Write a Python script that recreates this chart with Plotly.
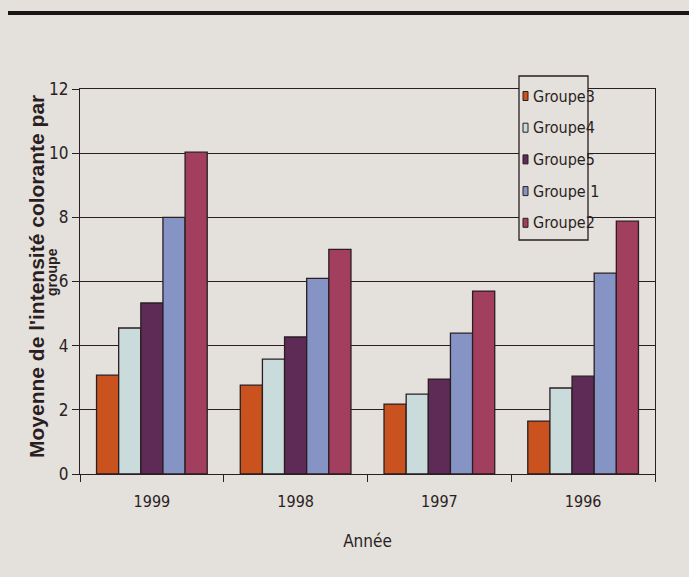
import plotly.graph_objects as go

years = ["1999", "1998", "1997", "1996"]
series_names = ["Groupe3", "Groupe4", "Groupe5", "Groupe 1", "Groupe2"]
groupe3 = [3.08, 2.77, 2.18, 1.65]
groupe4 = [4.55, 3.58, 2.49, 2.68]
groupe5 = [5.33, 4.27, 2.96, 3.05]
groupe1 = [8.0, 6.1, 4.39, 6.26]
groupe2 = [10.03, 7.0, 5.7, 7.88]
y_ticks = [0, 2, 4, 6, 8, 10, 12]

values = [groupe3, groupe4, groupe5, groupe1, groupe2]
colors = ["#c9521f", "#c9dbda", "#5e2a56", "#8594c4", "#a23e5e"]

bg = "#e4e0dc"
ink = "#2a1e22"
font_fam = "DejaVu Sans Condensed, Liberation Sans Narrow, Liberation Sans, Arial, sans-serif"

W, H = 689, 577
ML, MR, MT, MB = 80, 34, 89, 103
PW, PH = W - ML - MR, H - MT - MB


def px(x):
    return (x - ML) / PW


def py(y):
    return (H - MB - y) / PH


fig = go.Figure()
for name, vals, col in zip(series_names, values, colors):
    fig.add_trace(go.Bar(
        x=years, y=vals, name=name, showlegend=False,
        marker=dict(color=col, line=dict(color=ink, width=1.3)),
    ))

shapes = [
    # top rule of the page
    dict(type="line", xref="paper", yref="paper",
         x0=px(8), x1=px(W), y0=py(13), y1=py(13),
         line=dict(color="#1a1416", width=4)),
    # legend box
    dict(type="rect", xref="paper", yref="paper",
         x0=px(519), x1=px(588), y0=py(240), y1=py(76),
         fillcolor=bg, line=dict(color=ink, width=1.3), layer="above"),
]
annotations = []
leg_y0, leg_dy = 96, 31.7
for i, (name, col) in enumerate(zip(series_names, colors)):
    yc = leg_y0 + i * leg_dy
    shapes.append(dict(type="rect", xref="paper", yref="paper",
                       x0=px(523), x1=px(528), y0=py(yc + 4.5), y1=py(yc - 4.5),
                       fillcolor=col, line=dict(color=ink, width=1), layer="above"))
    annotations.append(dict(text=name, xref="paper", yref="paper",
                            x=px(531), y=py(yc), xanchor="left", yanchor="middle",
                            showarrow=False,
                            font=dict(family=font_fam, size=16, color=ink)))

annotations.append(dict(text="<b>Moyenne de l'intensité colorante par</b>",
                        xref="paper", yref="paper", x=px(36), y=py(277),
                        xanchor="center", yanchor="middle", textangle=-90,
                        showarrow=False,
                        font=dict(family="Liberation Sans, Arial, sans-serif", size=21, color=ink)))
annotations.append(dict(text="<b>groupe</b>",
                        xref="paper", yref="paper", x=px(52), y=py(272),
                        xanchor="center", yanchor="middle", textangle=-90,
                        showarrow=False,
                        font=dict(family="Liberation Sans, Arial, sans-serif", size=14, color=ink)))

fig.update_layout(
    width=W, height=H,
    paper_bgcolor=bg, plot_bgcolor=bg,
    margin=dict(l=ML, r=MR, t=MT, b=MB),
    barmode="group", bargap=0.23, bargroupgap=0,
    font=dict(family=font_fam, color=ink, size=14),
    showlegend=False,
    xaxis=dict(
        type="category", showgrid=False, showline=True, linecolor=ink, linewidth=1.3,
        ticks="outside", tickson="boundaries", ticklen=7, tickcolor=ink, tickwidth=1.3,
        tickfont=dict(size=16, family=font_fam), ticklabelstandoff=13,
        mirror=True, automargin=False,
        title=dict(text="Année", font=dict(size=17, family=font_fam), standoff=24),
    ),
    yaxis=dict(
        range=[0, 12], tickvals=y_ticks, showgrid=True, gridcolor=ink, gridwidth=1.3,
        showline=True, linecolor=ink, linewidth=1.3, mirror=True,
        ticks="outside", ticklen=7, tickcolor=ink, tickwidth=1.3,
        tickfont=dict(size=17, family=font_fam),
        zeroline=False, automargin=False,
    ),
    shapes=shapes,
    annotations=annotations,
)

fig.write_html("out.html", config={"displayModeBar": False},
               post_script="document.body.style.margin='0';document.body.style.background='%s';" % bg)
